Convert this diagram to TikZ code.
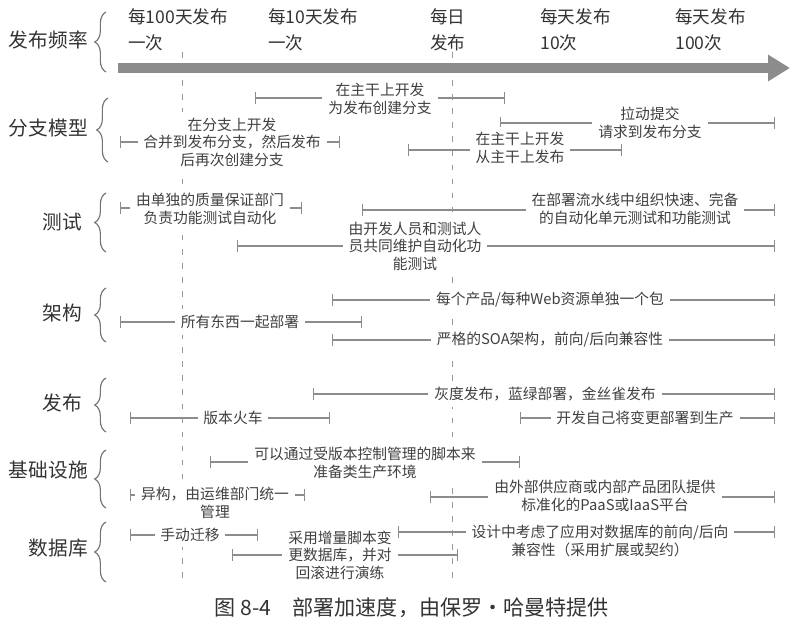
\documentclass[tikz,border=0pt]{standalone}
\usepackage{fontspec}
\setmainfont{Noto Sans CJK SC}
\usetikzlibrary{arrows.meta,decorations.pathreplacing}

\begin{document}
\begin{tikzpicture}[x=0.025cm, y=-0.025cm,
    lbl/.style={font=\fontsize{10.5}{12.5}\selectfont, align=center, text=black!75, fill=white, inner sep=4pt},
    row/.style={font=\fontsize{14}{16}\selectfont, anchor=east, text=black!80, inner sep=0pt},
    hdr/.style={font=\fontsize{12.5}{19}\selectfont, align=left, anchor=north west, text=black!80, inner sep=0pt},
    lft/.style={draw=gray!90, line width=1pt, {Bar[width=0.3cm]}-},
    rgt/.style={draw=gray!90, line width=1pt, -{Bar[width=0.3cm]}},
    brc/.style={decorate, decoration={brace, amplitude=8pt}, thick, black!55},
    guide/.style={gray!80, thin, dash pattern=on 4pt off 6pt},
    axis/.style={line width=0.27cm, black!45, -{Triangle[length=0.55cm, width=0.63cm]}}]
    \fill[white] (0,0) rectangle (808,633);
    \useasboundingbox (0,0) rectangle (808,633);

    \node[row] (rfreq) at (88,40) {发布频率};
    \node[row] (rbranch) at (88,128) {分支模型};
    \node[row] (rtest) at (82,222) {测试};
    \node[row] (rarch) at (82,313) {架构};
    \node[row] (rrel) at (82,403) {发布};
    \node[row] (rinfra) at (88,470) {基础设施};
    \node[row] (rdb) at (88,548) {数据库};

    \draw[brc] (106,72) -- (106,12);
    \draw[brc] (108,162) -- (108,98);
    \draw[brc] (106,252) -- (106,193);
    \draw[brc] (106,342) -- (106,288);
    \draw[brc] (106,432) -- (106,378);
    \draw[brc] (106,508) -- (106,450);
    \draw[brc] (106,582) -- (106,522);

    \node[hdr] (h1) at (128,8) {每100天发布\\一次};
    \node[hdr] (h2) at (268,8) {每10天发布\\一次};
    \node[hdr] (h3) at (430,8) {每日\\发布};
    \node[hdr] (h4) at (540,8) {每天发布\\10次};
    \node[hdr] (h5) at (675,8) {每天发布\\100次};

    \coordinate (g1a) at (182,52); \coordinate (g1b) at (182,580);
    \coordinate (g2a) at (452,52); \coordinate (g2b) at (452,580);
    \draw[guide] (g1a) -- (g1b);
    \draw[guide] (g2a) -- (g2b);

    \coordinate (ax0) at (118,68); \coordinate (ax1) at (790,68);
    \draw[axis] (ax0) -- (ax1);

    \node[lbl] (b1) at (380,99) {在主干上开发\\为发布创建分支};
    \coordinate (b1s) at (255,98); \coordinate (b1e) at (505,98);
    \draw[lft] (b1s) -- (b1s -| b1.west);
    \draw[rgt] (b1.east |- b1e) -- (b1e);

    \node[lbl] (b2) at (650,123) {拉动提交\\请求到发布分支};
    \coordinate (b2s) at (500,123); \coordinate (b2e) at (775,123);
    \draw[lft] (b2s) -- (b2s -| b2.west);
    \draw[rgt] (b2.east |- b2e) -- (b2e);

    \node[lbl] (b3) at (232,142) {在分支上开发\\合并到发布分支，然后发布\\后再次创建分支};
    \coordinate (b3s) at (120,142); \coordinate (b3e) at (340,142);
    \draw[lft] (b3s) -- (b3s -| b3.west);
    \draw[rgt] (b3.east |- b3e) -- (b3e);

    \node[lbl] (b4) at (520,148) {在主干上开发\\从主干上发布};
    \coordinate (b4s) at (408,150); \coordinate (b4e) at (622,150);
    \draw[lft] (b4s) -- (b4s -| b4.west);
    \draw[rgt] (b4.east |- b4e) -- (b4e);

    \node[lbl] (t1) at (210,209) {由单独的质量保证部门\\负责功能测试自动化};
    \coordinate (t1s) at (120,208); \coordinate (t1e) at (302,208);
    \draw[lft] (t1s) -- (t1s -| t1.west);
    \draw[rgt] (t1.east |- t1e) -- (t1e);

    \node[lbl] (t2) at (635,209) {在部署流水线中组织快速、完备\\的自动化单元测试和功能测试};
    \coordinate (t2s) at (362,210); \coordinate (t2e) at (775,210);
    \draw[lft] (t2s) -- (t2s -| t2.west);
    \draw[rgt] (t2.east |- t2e) -- (t2e);

    \node[lbl] (t3) at (415,246) {由开发人员和测试人\\员共同维护自动化功\\能测试};
    \coordinate (t3s) at (237,246); \coordinate (t3e) at (775,246);
    \draw[lft] (t3s) -- (t3s -| t3.west);
    \draw[rgt] (t3.east |- t3e) -- (t3e);

    \node[lbl] (a1) at (550,300) {每个产品/每种Web资源单独一个包};
    \coordinate (a1s) at (332,300); \coordinate (a1e) at (775,300);
    \draw[lft] (a1s) -- (a1s -| a1.west);
    \draw[rgt] (a1.east |- a1e) -- (a1e);

    \node[lbl] (a2) at (240,322) {所有东西一起部署};
    \coordinate (a2s) at (120,322); \coordinate (a2e) at (362,322);
    \draw[lft] (a2s) -- (a2s -| a2.west);
    \draw[rgt] (a2.east |- a2e) -- (a2e);

    \node[lbl] (a3) at (550,340) {严格的SOA架构，前向/后向兼容性};
    \coordinate (a3s) at (332,340); \coordinate (a3e) at (775,340);
    \draw[lft] (a3s) -- (a3s -| a3.west);
    \draw[rgt] (a3.east |- a3e) -- (a3e);

    \node[lbl] (r1) at (545,394) {灰度发布，蓝绿部署，金丝雀发布};
    \coordinate (r1s) at (313,394); \coordinate (r1e) at (775,394);
    \draw[lft] (r1s) -- (r1s -| r1.west);
    \draw[rgt] (r1.east |- r1e) -- (r1e);

    \node[lbl] (r2) at (233,418) {版本火车};
    \coordinate (r2s) at (130,418); \coordinate (r2e) at (330,418);
    \draw[lft] (r2s) -- (r2s -| r2.west);
    \draw[rgt] (r2.east |- r2e) -- (r2e);

    \node[lbl] (r3) at (645,418) {开发自己将变更部署到生产};
    \coordinate (r3s) at (520,418); \coordinate (r3e) at (775,418);
    \draw[lft] (r3s) -- (r3s -| r3.west);
    \draw[rgt] (r3.east |- r3e) -- (r3e);

    \node[lbl] (i1) at (365,463) {可以通过受版本控制管理的脚本来\\准备类生产环境};
    \coordinate (i1s) at (210,462); \coordinate (i1e) at (520,462);
    \draw[lft] (i1s) -- (i1s -| i1.west);
    \draw[rgt] (i1.east |- i1e) -- (i1e);

    \node[lbl] (i2) at (215,503) {异构，由运维部门统一\\管理};
    \coordinate (i2s) at (130,495); \coordinate (i2e) at (305,495);
    \draw[lft] (i2s) -- (i2s -| i2.west);
    \draw[rgt] (i2.east |- i2e) -- (i2e);

    \node[lbl] (i3) at (605,496) {由外部供应商或内部产品团队提供\\标准化的PaaS或IaaS平台};
    \coordinate (i3s) at (430,497); \coordinate (i3e) at (775,497);
    \draw[lft] (i3s) -- (i3s -| i3.west);
    \draw[rgt] (i3.east |- i3e) -- (i3e);

    \node[lbl] (d1) at (190,535) {手动迁移};
    \coordinate (d1s) at (130,535); \coordinate (d1e) at (258,535);
    \draw[lft] (d1s) -- (d1s -| d1.west);
    \draw[rgt] (d1.east |- d1e) -- (d1e);

    \node[lbl] (d2) at (600,541) {设计中考虑了应用对数据库的前向/后向\\兼容性（采用扩展或契约）};
    \coordinate (d2s) at (398,532); \coordinate (d2e) at (775,532);
    \draw[lft] (d2s) -- (d2s -| d2.west);
    \draw[rgt] (d2.east |- d2e) -- (d2e);

    \node[lbl] (d3) at (340,555) {采用增量脚本变\\更数据库，并对\\回滚进行演练};
    \coordinate (d3s) at (232,555); \coordinate (d3e) at (458,555);
    \draw[lft] (d3s) -- (d3s -| d3.west);
    \draw[rgt] (d3.east |- d3e) -- (d3e);

    \node[font=\fontsize{15}{18}\selectfont, text=black!80] (cap) at (412,608) {图 8-4\quad 部署加速度，由保罗·哈曼特提供};
\end{tikzpicture}
\end{document}
